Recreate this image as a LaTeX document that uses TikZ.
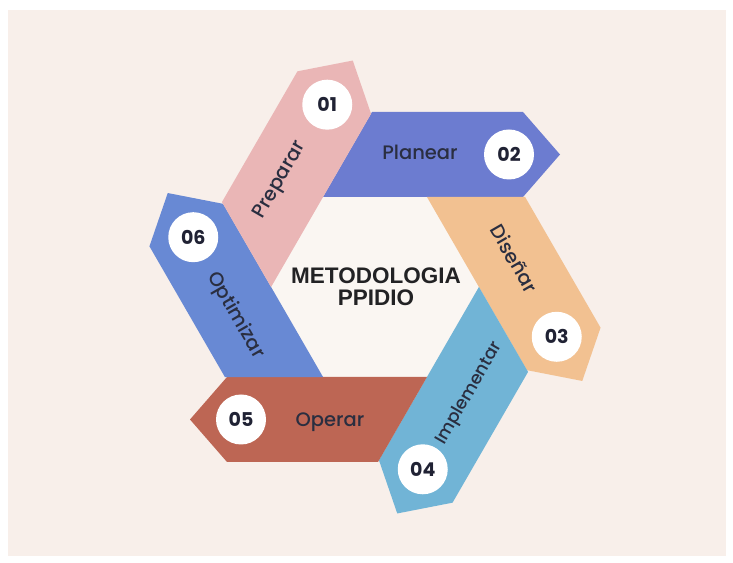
\documentclass[tikz,border=0pt]{standalone}
\usepackage{fontspec}
\newfontfamily\popfont{Poppins}[UprightFont=* Medium, BoldFont=* Bold]
\newfontfamily\titlefont{Liberation Sans}
\definecolor{bgC}{RGB}{248,239,234}
\definecolor{hexC}{RGB}{250,246,242}
\definecolor{prepC}{RGB}{234,182,182}
\definecolor{planC}{RGB}{108,124,208}
\definecolor{disC}{RGB}{242,193,145}
\definecolor{impC}{RGB}{113,180,214}
\definecolor{opC}{RGB}{189,102,84}
\definecolor{optC}{RGB}{104,137,212}
\definecolor{numC}{RGB}{32,34,52}
\definecolor{lblC}{RGB}{42,46,64}
\definecolor{titC}{RGB}{34,34,36}
\begin{document}
\begin{tikzpicture}[x=1pt,y=1pt,
  numcirc/.style={circle, fill=white, minimum size=50pt, inner sep=0pt,
    font=\popfont\bfseries\fontsize{19}{19}\selectfont, text=numC},
  lbl/.style={font=\popfont\fontsize{#1}{#1}\selectfont, text=lblC, inner sep=0pt},
  titlenode/.style={align=center, inner sep=0pt, text=titC,
    font=\titlefont\bfseries\fontsize{22.5}{22}\selectfont}]
\useasboundingbox (0,0) rectangle (733,562);
\fill[white] (0,0) rectangle (733,562);
\fill[bgC] (8,6) rectangle (726,552);
\begin{scope}[shift={(375,275)}]
  \fill[hexC] (0:104) -- (60:104) -- (120:104) -- (180:104) -- (240:104) -- (300:104) -- cycle;
  \foreach \ang/\col/\nn/\txt/\rot/\nm/\fs in {
      0/planC/02/Planear/0/planear/19.5,
      -60/disC/03/Diseñar/-60/disenar/19.5,
      -120/impC/04/Implementar/60/implementar/17.5,
      180/opC/05/Operar/0/operar/19.5,
      120/optC/06/Optimizar/-60/optimizar/19.5,
      60/prepC/01/Preparar/60/preparar/19.5}
  {
    \begin{scope}[rotate=\ang]
      \fill[\col] (-52,90) -- (148,90) -- (185,132.5) -- (148,175) -- (-3,175) -- cycle;
      \node[numcirc] (n\nm) at (134,132.5) {\nn};
      \node[lbl=\fs, rotate=\rot] (l\nm) at (45,135) {\txt};
    \end{scope}
  }
  \node[titlenode] (title) at (1,0) {METODOLOGIA\\PPIDIO};
\end{scope}
\end{tikzpicture}
\end{document}
